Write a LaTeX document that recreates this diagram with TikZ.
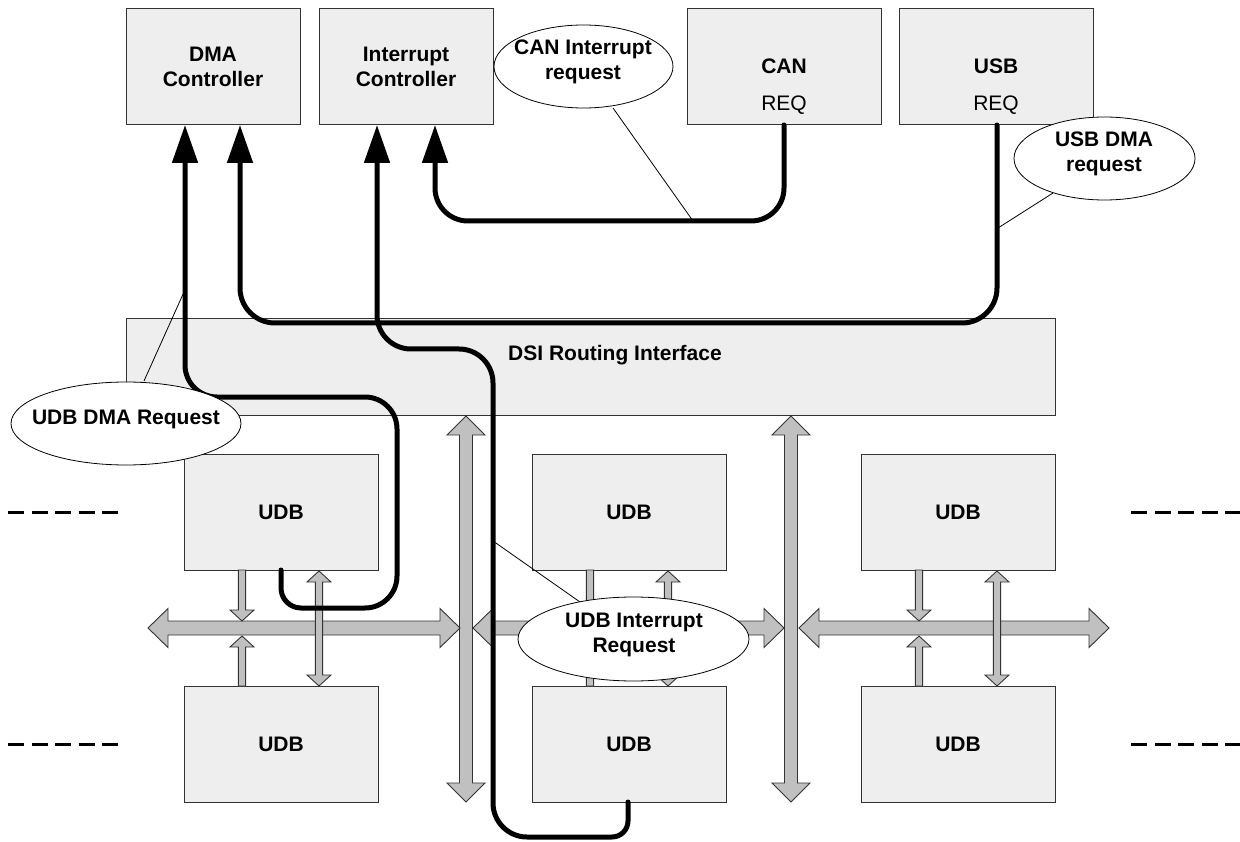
\documentclass[tikz,border=0pt]{standalone}
\usepackage{fontspec}
\setmainfont{Liberation Sans}
\usetikzlibrary{shapes.geometric,arrows.meta}
\definecolor{boxfill}{HTML}{EEEEEE}
\definecolor{busfill}{HTML}{C0C0C0}
\definecolor{edgecol}{HTML}{333333}
% vertical double arrow: x, ytop, ybottom, shaft half, head half, head length
\newcommand{\vdblbus}[6]{%
  \filldraw[bus] (#1,#2) -- ({#1+#5},{#2+#6}) -- ({#1+#4},{#2+#6}) -- ({#1+#4},{#3-#6}) -- ({#1+#5},{#3-#6}) -- (#1,#3)
   -- ({#1-#5},{#3-#6}) -- ({#1-#4},{#3-#6}) -- ({#1-#4},{#2+#6}) -- ({#1-#5},{#2+#6}) -- cycle;}
% horizontal double arrow: y, xleft, xright, shaft half, head half, head length
\newcommand{\hdblbus}[6]{%
  \filldraw[bus] (#2,#1) -- ({#2+#6},{#1-#5}) -- ({#2+#6},{#1-#4}) -- ({#3-#6},{#1-#4}) -- ({#3-#6},{#1-#5}) -- (#3,#1)
   -- ({#3-#6},{#1+#5}) -- ({#3-#6},{#1+#4}) -- ({#2+#6},{#1+#4}) -- ({#2+#6},{#1+#5}) -- cycle;}
% vertical down arrow: x, ytail, ytip
\newcommand{\vdownbus}[3]{%
  \filldraw[bus] ({#1-3.6},#2) -- ({#1+3.6},#2) -- ({#1+3.6},{#3-11}) -- ({#1+12},{#3-11}) -- (#1,#3) -- ({#1-12},{#3-11}) -- ({#1-3.6},{#3-11}) -- cycle;}
% vertical up arrow: x, ytip, ytail
\newcommand{\vupbus}[3]{%
  \filldraw[bus] (#1,#2) -- ({#1+12},{#2+11}) -- ({#1+3.6},{#2+11}) -- ({#1+3.6},#3) -- ({#1-3.6},#3) -- ({#1-3.6},{#2+11}) -- ({#1-12},{#2+11}) -- cycle;}
\begin{document}
\begin{tikzpicture}[x=1pt,y=-1pt,
  box/.style={draw=edgecol,line width=1pt,fill=boxfill,inner sep=0pt,
    font=\bfseries\fontsize{21}{25}\selectfont,align=center},
  bus/.style={fill=busfill,draw=edgecol,line width=0.9pt,line join=miter},
  wire/.style={line width=5pt,line cap=round,
    -{Triangle[length=38pt,width=25pt]}},
  callout/.style={ellipse,draw=black,line width=0.8pt,fill=white,inner sep=0pt},
  ctext/.style={font=\bfseries\fontsize{21}{25.5}\selectfont,align=center,inner sep=0pt},
  reqtext/.style={font=\fontsize{21}{25}\selectfont,inner sep=0pt,anchor=base},
  leader/.style={line width=0.8pt},
  dashline/.style={line width=3pt,dash pattern=on 16pt off 7.5pt}]
\useasboundingbox (0,0) rectangle (1240,842);

% top boxes
\node[box,minimum width=174pt,minimum height=116pt] (dma) at (213,67) {DMA\\Controller};
\node[box,minimum width=174pt,minimum height=116pt] (intc) at (406,67) {Interrupt\\Controller};
\node[box,minimum width=194pt,minimum height=116pt] (can) at (784,67) {};
\node[box,minimum width=194pt,minimum height=116pt] (usb) at (996,67) {};
\node[reqtext,font=\bfseries\fontsize{21}{25}\selectfont] (cant) at (784,74) {CAN};
\node[reqtext] (canreq) at (784,111) {REQ};
\node[reqtext,font=\bfseries\fontsize{21}{25}\selectfont] (usbt) at (996,74) {USB};
\node[reqtext] (usbreq) at (996,111) {REQ};

% DSI box
\node[box,minimum width=929pt,minimum height=96pt] (dsi) at (590.5,367) {};
\node[reqtext,font=\bfseries\fontsize{21}{25}\selectfont] (dsit) at (615,360) {DSI Routing Interface};

% UDB boxes
\node[box,minimum width=194pt,minimum height=116pt] (u1) at (281,512) {UDB};
\node[box,minimum width=194pt,minimum height=116pt] (u2) at (629,512) {UDB};
\node[box,minimum width=194pt,minimum height=116pt] (u3) at (958,512) {UDB};
\node[box,minimum width=194pt,minimum height=116pt] (u4) at (281,744) {UDB};
\node[box,minimum width=194pt,minimum height=116pt] (u5) at (629,744) {UDB};
\node[box,minimum width=194pt,minimum height=116pt] (u6) at (958,744) {UDB};

% big buses
\vdblbus{466}{416}{802}{6.5}{19}{19}
\vdblbus{791}{416}{802}{6.5}{19}{19}
\hdblbus{628}{148}{460}{7}{19.5}{20}
\hdblbus{628}{473}{784}{7}{19.5}{20}
\hdblbus{628}{799}{1109}{7}{19.5}{20}

% small arrows
\vdownbus{242}{570}{621}
\vupbus{242}{636}{686}
\vdownbus{590}{570}{621}
\vupbus{590}{636}{686}
\vdownbus{919}{570}{621}
\vupbus{919}{636}{686}
\vdblbus{319}{571}{686}{3.6}{12}{11}
\vdblbus{668}{571}{686}{3.6}{12}{11}
\vdblbus{997}{571}{686}{3.6}{12}{11}

% thick wires
\coordinate (w1s) at (281,570);
\coordinate (w1e) at (185,125);
\draw[wire] (w1s) [rounded corners=20pt] -- (281,608) -- (340,608) [rounded corners=32pt] -- (397,608) -- (397,397) -- (185,397) -- (w1e);
\coordinate (w2s) at (997,125);
\coordinate (w2e) at (240,125);
\draw[wire,rounded corners=35pt] (w2s) -- (997,323) -- (240,323) -- (w2e);
\coordinate (w3s) at (628,802);
\coordinate (w3e) at (377,125);
\draw[wire] (w3s) [rounded corners=16pt] -- (628,837) -- (560,837) [rounded corners=34pt] -- (493,837) -- (493,349) -- (377,349) -- (w3e);
\coordinate (w4s) at (784,125);
\coordinate (w4e) at (435,125);
\draw[wire,rounded corners=33pt] (w4s) -- (784,221) -- (435,221) -- (w4e);

% leaders (drawn under the callouts)
\coordinate (l1a) at (613,108); \coordinate (l1) at (693,221);
\coordinate (l2a) at (1053,193); \coordinate (l2) at (998,228);
\coordinate (l3a) at (144,381); \coordinate (l3) at (184,292);
\coordinate (l4a) at (580,602); \coordinate (l4) at (493,541);
\draw[leader] (l1a) -- (l1);
\draw[leader] (l2a) -- (l2);
\draw[leader] (l3a) -- (l3);
\draw[leader] (l4a) -- (l4);

% callouts
\node[callout,minimum width=179pt,minimum height=83pt] (canc) at (583.5,66.5) {};
\node[ctext] (canct) at (583,62) {CAN Interrupt\\request};
\node[callout,minimum width=181pt,minimum height=83pt] (usbc) at (1104.5,158.5) {};
\node[ctext] (usbct) at (1104,154) {USB DMA\\request};
\node[callout,minimum width=230pt,minimum height=83pt] (udbdma) at (126,423.5) {};
\node[ctext,anchor=base] (udbdmat) at (126,424) {UDB DMA Request};
\node[callout,minimum width=231pt,minimum height=84pt] (udbint) at (633.5,639) {};
\node[ctext] (udbintt) at (634,635) {UDB Interrupt\\Request};

% dashed continuation lines
\coordinate (d1a) at (8,512); \coordinate (d1b) at (120,512);
\coordinate (d2a) at (8,744); \coordinate (d2b) at (120,744);
\coordinate (d3a) at (1131,512); \coordinate (d3b) at (1240,512);
\coordinate (d4a) at (1131,744); \coordinate (d4b) at (1240,744);
\draw[dashline] (d1a) -- (d1b);
\draw[dashline] (d2a) -- (d2b);
\draw[dashline] (d3a) -- (d3b);
\draw[dashline] (d4a) -- (d4b);
\end{tikzpicture}
\end{document}
